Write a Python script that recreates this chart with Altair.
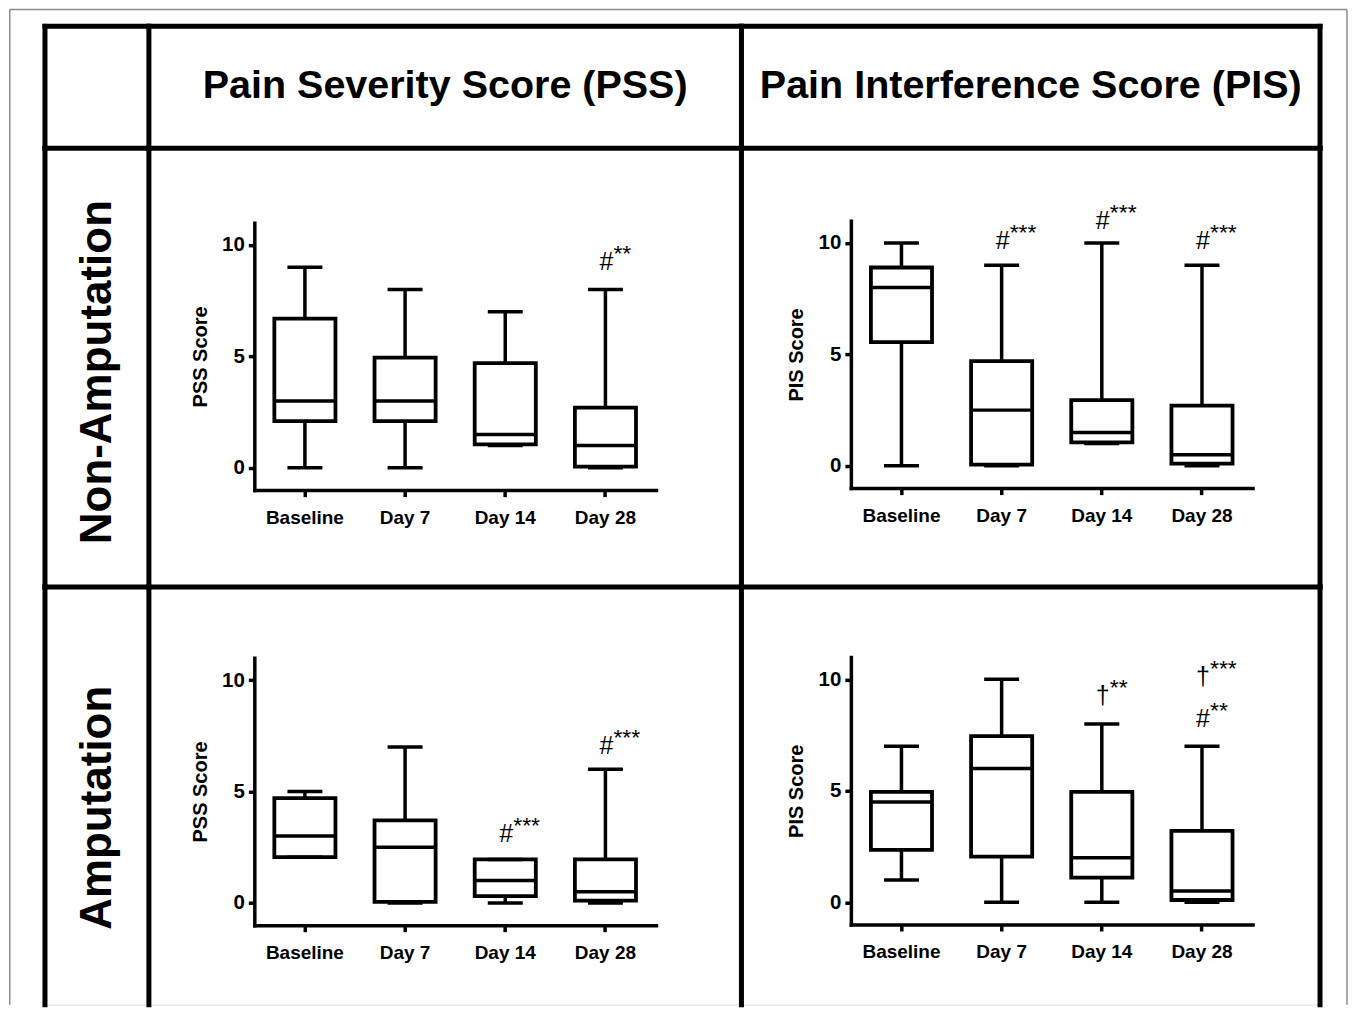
import altair as alt
import pandas as pd

categories = ["Baseline", "Day 7", "Day 14", "Day 28"]
col_titles = ["Pain Severity Score (PSS)", "Pain Interference Score (PIS)"]
row_titles = ["Non-Amputation", "Amputation"]
y_titles = ["PSS Score", "PIS Score"]
y_tick_values = [0, 5, 10]
y_domain = [-1, 11]

# ---- Non-Amputation, PSS ----
na_pss_min = [0, 0, 1, 0]
na_pss_q1 = [2.1, 2.1, 1.05, 0.05]
na_pss_med = [3, 3, 1.5, 1]
na_pss_q3 = [6.7, 4.95, 4.7, 2.7]
na_pss_max = [9, 8, 7, 8]
na_pss_ann_cat = ["Day 28"]
na_pss_ann_y = [9.25]
na_pss_ann_sym = ["#"]
na_pss_ann_sig = ["**"]

# ---- Non-Amputation, PIS ----
na_pis_min = [0, 0, 1, 0]
na_pis_q1 = [5.55, 0.05, 1.05, 0.1]
na_pis_med = [8, 2.5, 1.5, 0.5]
na_pis_q3 = [8.9, 4.7, 2.95, 2.7]
na_pis_max = [10, 9, 10, 9]
na_pis_ann_cat = ["Day 7", "Day 14", "Day 28"]
na_pis_ann_y = [10.08, 11.0, 10.08]
na_pis_ann_sym = ["#", "#", "#"]
na_pis_ann_sig = ["***", "***", "***"]

# ---- Amputation, PSS ----
a_pss_min = [2.05, 0, 0, 0]
a_pss_q1 = [2.05, 0.05, 0.3, 0.1]
a_pss_med = [3, 2.5, 1, 0.5]
a_pss_q3 = [4.7, 3.7, 1.95, 1.95]
a_pss_max = [5, 7, 1.95, 6]
a_pss_ann_cat = ["Day 14", "Day 28"]
a_pss_ann_y = [3.1, 7.06]
a_pss_ann_sym = ["#", "#"]
a_pss_ann_sig = ["***", "***"]

# ---- Amputation, PIS ----
a_pis_min = [1, 0, 0, 0]
a_pis_q1 = [2.35, 2.05, 1.1, 0.1]
a_pis_med = [4.5, 6, 2, 0.5]
a_pis_q3 = [4.95, 7.45, 4.95, 3.2]
a_pis_max = [7, 10, 8, 7]
a_pis_ann_cat = ["Day 14", "Day 28", "Day 28"]
a_pis_ann_y = [9.25, 10.1, 8.21]
a_pis_ann_sym = ["\u2020", "\u2020", "#"]
a_pis_ann_sig = ["**", "***", "**"]

# ---- layout (pixels) ----
COL_W = [103.5, 593, 579]
ROW_H = [122, 439, 418]
PX = 22.3          # pixels per score unit
LINE_W = 5
FONT = "Liberation Sans"

ONE = alt.Data(values=[{"k": 0}])


def rule(x, x2, y, y2, color="black", w=LINE_W, cap="square"):
    return alt.Chart(ONE).mark_rule(color=color, strokeWidth=w, strokeCap=cap).encode(
        x=alt.value(x), x2=alt.value(x2), y=alt.value(y), y2=alt.value(y2)
    )


def borders(W, H, right=False):
    layers = [rule(0, W, 0, 0), rule(0, 0, 0, H)]
    if right:
        layers.append(rule(W, W, 0, H))
    return layers


def make_panel(mins, q1s, meds, q3s, maxs, a_cat, a_y, a_sym, a_sig,
               W, H, xr, zero, ytitle, right):
    df = pd.DataFrame({"cat": categories, "lo": mins, "q1": q1s,
                       "med": meds, "q3": q3s, "hi": maxs})
    adf = pd.DataFrame({"cat": a_cat, "y": a_y, "sym": a_sym, "sig": a_sig})
    ybot = zero + PX * (0 - y_domain[0])
    ytop = zero - PX * y_domain[1]
    xs = alt.Scale(domain=categories, range=xr, paddingInner=0.39, paddingOuter=0.2)
    ys = alt.Scale(domain=y_domain, range=[ybot, ytop], nice=False, zero=False)
    xaxis = alt.Axis(title=None, offset=-(H - ybot), labelAngle=0, labelFont=FONT,
                     labelFontSize=19, labelFontWeight="bold", labelColor="black",
                     labelPadding=12, tickSize=6.5, tickWidth=3.5, tickColor="black",
                     domainWidth=3.5, domainColor="black", domainCap="square", grid=False)
    yaxis = alt.Axis(title=ytitle, values=y_tick_values, offset=-xr[0], grid=False,
                     labelFont=FONT, labelFontSize=20.5, labelFontWeight="bold",
                     labelColor="black", labelPadding=4, tickSize=6, tickWidth=3.5,
                     tickColor="black", domainWidth=3.5, domainColor="black",
                     domainCap="square", titleFont=FONT, titleFontSize=20,
                     titleFontWeight="bold", titleColor="black", titleAngle=270,
                     titleX=-54, titleY=(ybot + ytop) / 2, titleAlign="center",
                     titleBaseline="middle")
    X = alt.X("cat:N", scale=xs, axis=xaxis)

    def Y(f):
        return alt.Y(f, type="quantitative", scale=ys, axis=yaxis)

    base = alt.Chart(df)
    whisk = base.mark_rule(color="black", strokeWidth=3.5).encode(x=X, y=Y("lo"), y2="hi:Q")
    box = base.mark_bar(fill="white", stroke="black", strokeWidth=3.8).encode(
        x=X, y=Y("q1"), y2="q3:Q")
    med = base.mark_tick(color="black", opacity=1, thickness=3.5, size=61).encode(
        x=X, y=Y("med"))
    cap_hi = base.mark_tick(color="black", opacity=1, thickness=3.5, size=35).encode(
        x=X, y=Y("hi"))
    cap_lo = base.mark_tick(color="black", opacity=1, thickness=3.5, size=35).encode(
        x=X, y=Y("lo"))
    abase = alt.Chart(adf)
    sym = abase.mark_text(font=FONT, fontSize=25, color="black", align="center",
                          baseline="middle", dx=1).encode(x=X, y=Y("y"), text="sym:N")
    sig = abase.mark_text(font=FONT, fontSize=23, color="black", align="left",
                          baseline="middle", dx=8, dy=-8).encode(x=X, y=Y("y"), text="sig:N")
    layers = borders(W, H, right) + [whisk, box, med, cap_hi, cap_lo, sym, sig]
    return alt.layer(*layers).properties(width=W, height=H)


def header_cell(text, W, H, right):
    t = alt.Chart(ONE).mark_text(font=FONT, fontSize=39.5, fontWeight="bold",
                                 align="center", baseline="alphabetic",
                                 color="black").encode(
        x=alt.value(W / 2), y=alt.value(71.2), text=alt.value(text))
    return alt.layer(*(borders(W, H, right) + [t])).properties(width=W, height=H)


def row_cell(text, W, H, ymid):
    t = alt.Chart(ONE).mark_text(font=FONT, fontSize=44, fontWeight="bold", angle=270,
                                 align="center", baseline="alphabetic",
                                 color="black").encode(
        x=alt.value(66), y=alt.value(ymid), text=alt.value(text))
    return alt.layer(*(borders(W, H) + [t])).properties(width=W, height=H)


total_h = sum(ROW_H)
frame_l, frame_t, frame_r = -35.25, -16.75, 1303
corner = alt.layer(
    *(borders(COL_W[0], ROW_H[0]) + [
        rule(frame_l, frame_l, frame_t, total_h, color="#8c8c8c", w=1.5, cap="butt"),
        rule(frame_l, frame_r, frame_t, frame_t, color="#8c8c8c", w=1.5, cap="butt"),
        rule(frame_r, frame_r, frame_t, total_h, color="#8c8c8c", w=1.5, cap="butt"),
    ])
).properties(width=COL_W[0], height=ROW_H[0])

cells = [
    corner,
    header_cell(col_titles[0], COL_W[1], ROW_H[0], False),
    header_cell(col_titles[1], COL_W[2], ROW_H[0], True),
    row_cell(row_titles[0], COL_W[0], ROW_H[1], 224),
    make_panel(na_pss_min, na_pss_q1, na_pss_med, na_pss_q3, na_pss_max,
               na_pss_ann_cat, na_pss_ann_y, na_pss_ann_sym, na_pss_ann_sig,
               COL_W[1], ROW_H[1], [105.5, 507.5], 319.8, y_titles[0], False),
    make_panel(na_pis_min, na_pis_q1, na_pis_med, na_pis_q3, na_pis_max,
               na_pis_ann_cat, na_pis_ann_y, na_pis_ann_sym, na_pis_ann_sig,
               COL_W[2], ROW_H[1], [109.5, 511.5], 317.8, y_titles[1], True),
    row_cell(row_titles[1], COL_W[0], ROW_H[2], 221),
    make_panel(a_pss_min, a_pss_q1, a_pss_med, a_pss_q3, a_pss_max,
               a_pss_ann_cat, a_pss_ann_y, a_pss_ann_sym, a_pss_ann_sig,
               COL_W[1], ROW_H[2], [105.5, 507.5], 316.2, y_titles[0], False),
    make_panel(a_pis_min, a_pis_q1, a_pis_med, a_pis_q3, a_pis_max,
               a_pis_ann_cat, a_pis_ann_y, a_pis_ann_sym, a_pis_ann_sig,
               COL_W[2], ROW_H[2], [109.5, 511.5], 315.5, y_titles[1], True),
]

chart = alt.concat(*cells, columns=3, spacing=0, bounds="flush", align="each",
                   padding=0).configure_view(stroke=None).configure(font=FONT)

chart.save("out.html", embed_options={"renderer": "svg", "actions": False})
